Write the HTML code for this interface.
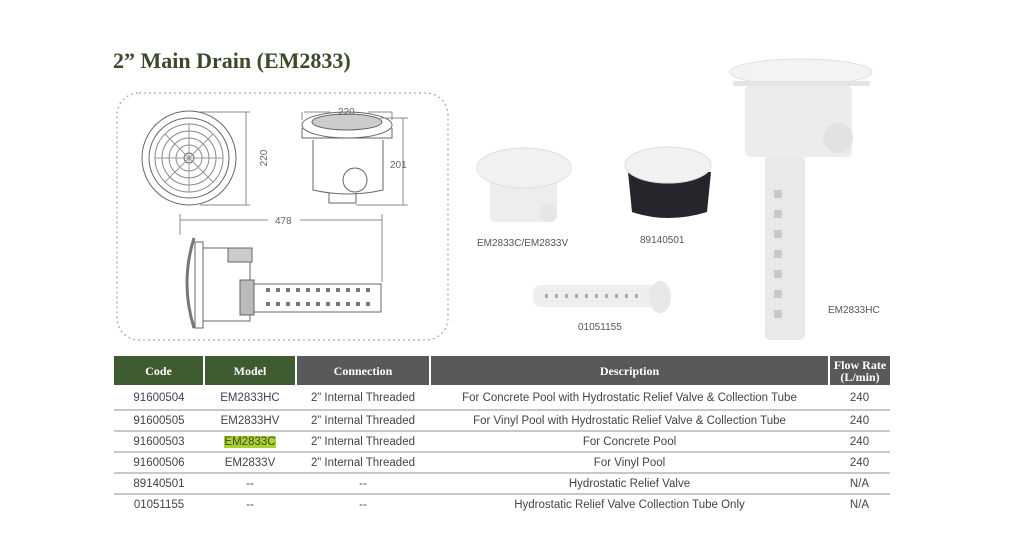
<!DOCTYPE html>
<html><head><meta charset="utf-8"><style>
body{margin:0;background:#fff;width:1024px;height:548px;overflow:hidden;position:relative;font-family:"Liberation Sans",sans-serif}
.t{position:absolute;left:113px;top:48px;font:bold 22px "Liberation Serif",serif;color:#3b4a28}
table{position:absolute;left:114px;top:356px;width:776px;border-collapse:collapse;font-size:11.5px;color:#444}
th{color:#fff;font:bold 12px "Liberation Serif",serif;height:29px;border-right:2px solid #fff;padding:0;line-height:12px}
th.g{background:#3e5c2f}th.d{background:#58595b}
td{text-align:center;height:19px;line-height:18px;padding:0;border-bottom:2px solid #c8c8c8}
tr.f td{height:22px;padding-top:2px}
tr:last-child td{border-bottom:none}
</style></head><body>
<div class="t">2” Main Drain (EM2833)</div>
<svg width="1024" height="548" style="position:absolute;left:0;top:0" font-family="Liberation Sans,sans-serif">
<rect x="117" y="93" width="331" height="247" rx="22" fill="none" stroke="#aaa" stroke-width="1.3" stroke-dasharray="2,3"/>
<g fill="none" stroke="#666" stroke-width="1">
<circle cx="189" cy="158" r="47"/><circle cx="189" cy="158" r="40"/>
<circle cx="189" cy="158" r="34" stroke="#888"/><circle cx="189" cy="158" r="27" stroke="#888"/><circle cx="189" cy="158" r="20" stroke="#888"/><circle cx="189" cy="158" r="13" stroke="#888"/><circle cx="189" cy="158" r="5"/>
<path d="M155 158H223M189 124V192M165 134L213 182M213 134L165 182" stroke="#999"/>
<path d="M200 112H250M200 205H250M246 112V205" stroke="#888"/>
<ellipse cx="347" cy="125" rx="45" ry="13"/><ellipse cx="347" cy="122" rx="35" ry="8" fill="#ccc"/>
<path d="M302 128V138H392V128M313 140V190Q348 198 383 190V140"/>
<circle cx="355" cy="180" r="12" fill="#fff"/><path d="M329 193V203H356V193"/>
<path d="M302 112V120M392 112V120M304 112H330M368 112H392M380 118H408M356 205H408M403 118V205" stroke="#888"/>
<path d="M180 220H268M300 220H382M180 214V235M382 214V282" stroke="#888"/>
<path d="M194 238Q180 283 194 328" stroke-width="3" stroke="#777"/>
<rect x="195" y="242" width="8" height="86"/><rect x="203" y="248" width="47" height="73"/>
<rect x="228" y="248" width="24" height="14" fill="#ccc"/>
<rect x="240" y="280" width="14" height="35" fill="#bbb"/>
<rect x="254" y="284" width="127" height="28"/>
</g>
<text x="275" y="224" font-size="10" fill="#666">478</text>
<g fill="none" stroke="#777">
<path d="M266 290h4M276 290h4M286 290h4M296 290h4M306 290h4M316 290h4M326 290h4M336 290h4M346 290h4M356 290h4M366 290h4M266 304h4M276 304h4M286 304h4M296 304h4M306 304h4M316 304h4M326 304h4M336 304h4M346 304h4M356 304h4M366 304h4" stroke-width="4"/>
</g>
<text x="338" y="115" font-size="10" fill="#666">220</text>
<text x="390" y="168" font-size="10" fill="#666">201</text>
<text x="255" y="170" font-size="10" fill="#666" transform="rotate(-90 255 158)" text-anchor="middle">220</text>
<rect x="490" y="176" width="67" height="46" rx="6" fill="#ededed"/>
<circle cx="548" cy="213" r="9" fill="#e6e6e6"/>
<ellipse cx="524" cy="168" rx="47" ry="20" fill="#f2f2f2" stroke="#ddd"/>
<path d="M628 172H711L707 212Q668 224 632 212Z" fill="#24262b"/>
<ellipse cx="668" cy="165" rx="43" ry="18" fill="#f2f2f2" stroke="#ddd"/>
<rect x="533" y="285" width="125" height="22" rx="8" fill="#eee"/>
<ellipse cx="660" cy="297" rx="11" ry="16" fill="#e8e8e8"/>
<path d="M545 296h3M555 296h3M565 296h3M575 296h3M585 296h3M595 296h3M605 296h3M615 296h3M625 296h3M635 296h3" stroke="#aaa" stroke-width="4"/>
<rect x="765" y="155" width="40" height="185" rx="6" fill="#e9e9e9"/>
<path d="M778 190v8M778 210v8M778 230v8M778 250v8M778 270v8M778 290v8M778 310v8" stroke="#c8c8c8" stroke-width="8"/>
<rect x="745" y="85" width="107" height="72" rx="6" fill="#ececec"/>
<circle cx="838" cy="138" r="15" fill="#e2e2e2"/>
<ellipse cx="801" cy="72" rx="71" ry="13" fill="#f3f3f3" stroke="#e0e0e0"/>
<rect x="733" y="81" width="137" height="5" rx="2" fill="#e4e4e4"/>
<g font-size="10" fill="#555">
<text x="477" y="246">EM2833C/EM2833V</text>
<text x="640" y="243">89140501</text>
<text x="578" y="330">01051155</text>
<text x="828" y="313">EM2833HC</text>
</g>
</svg>
<table>
<tr><th class="g" style="width:89px">Code</th><th class="g" style="width:90px">Model</th><th class="d" style="width:132px">Connection</th><th class="d" style="width:397px">Description</th><th class="d" style="border-right:none">Flow Rate<br>(L/min)</th></tr>
<tr class="f"><td>91600504</td><td>EM2833HC</td><td>2” Internal Threaded</td><td>For Concrete Pool with Hydrostatic Relief Valve &amp; Collection Tube</td><td>240</td></tr>
<tr><td>91600505</td><td>EM2833HV</td><td>2” Internal Threaded</td><td>For Vinyl Pool with Hydrostatic Relief Valve &amp; Collection Tube</td><td>240</td></tr>
<tr><td>91600503</td><td><span style="background:#a8d42a">EM2833C</span></td><td>2” Internal Threaded</td><td>For Concrete Pool</td><td>240</td></tr>
<tr><td>91600506</td><td>EM2833V</td><td>2” Internal Threaded</td><td>For Vinyl Pool</td><td>240</td></tr>
<tr><td>89140501</td><td>--</td><td>--</td><td>Hydrostatic Relief Valve</td><td>N/A</td></tr>
<tr><td>01051155</td><td>--</td><td>--</td><td>Hydrostatic Relief Valve Collection Tube Only</td><td>N/A</td></tr>
</table>
</body></html>
